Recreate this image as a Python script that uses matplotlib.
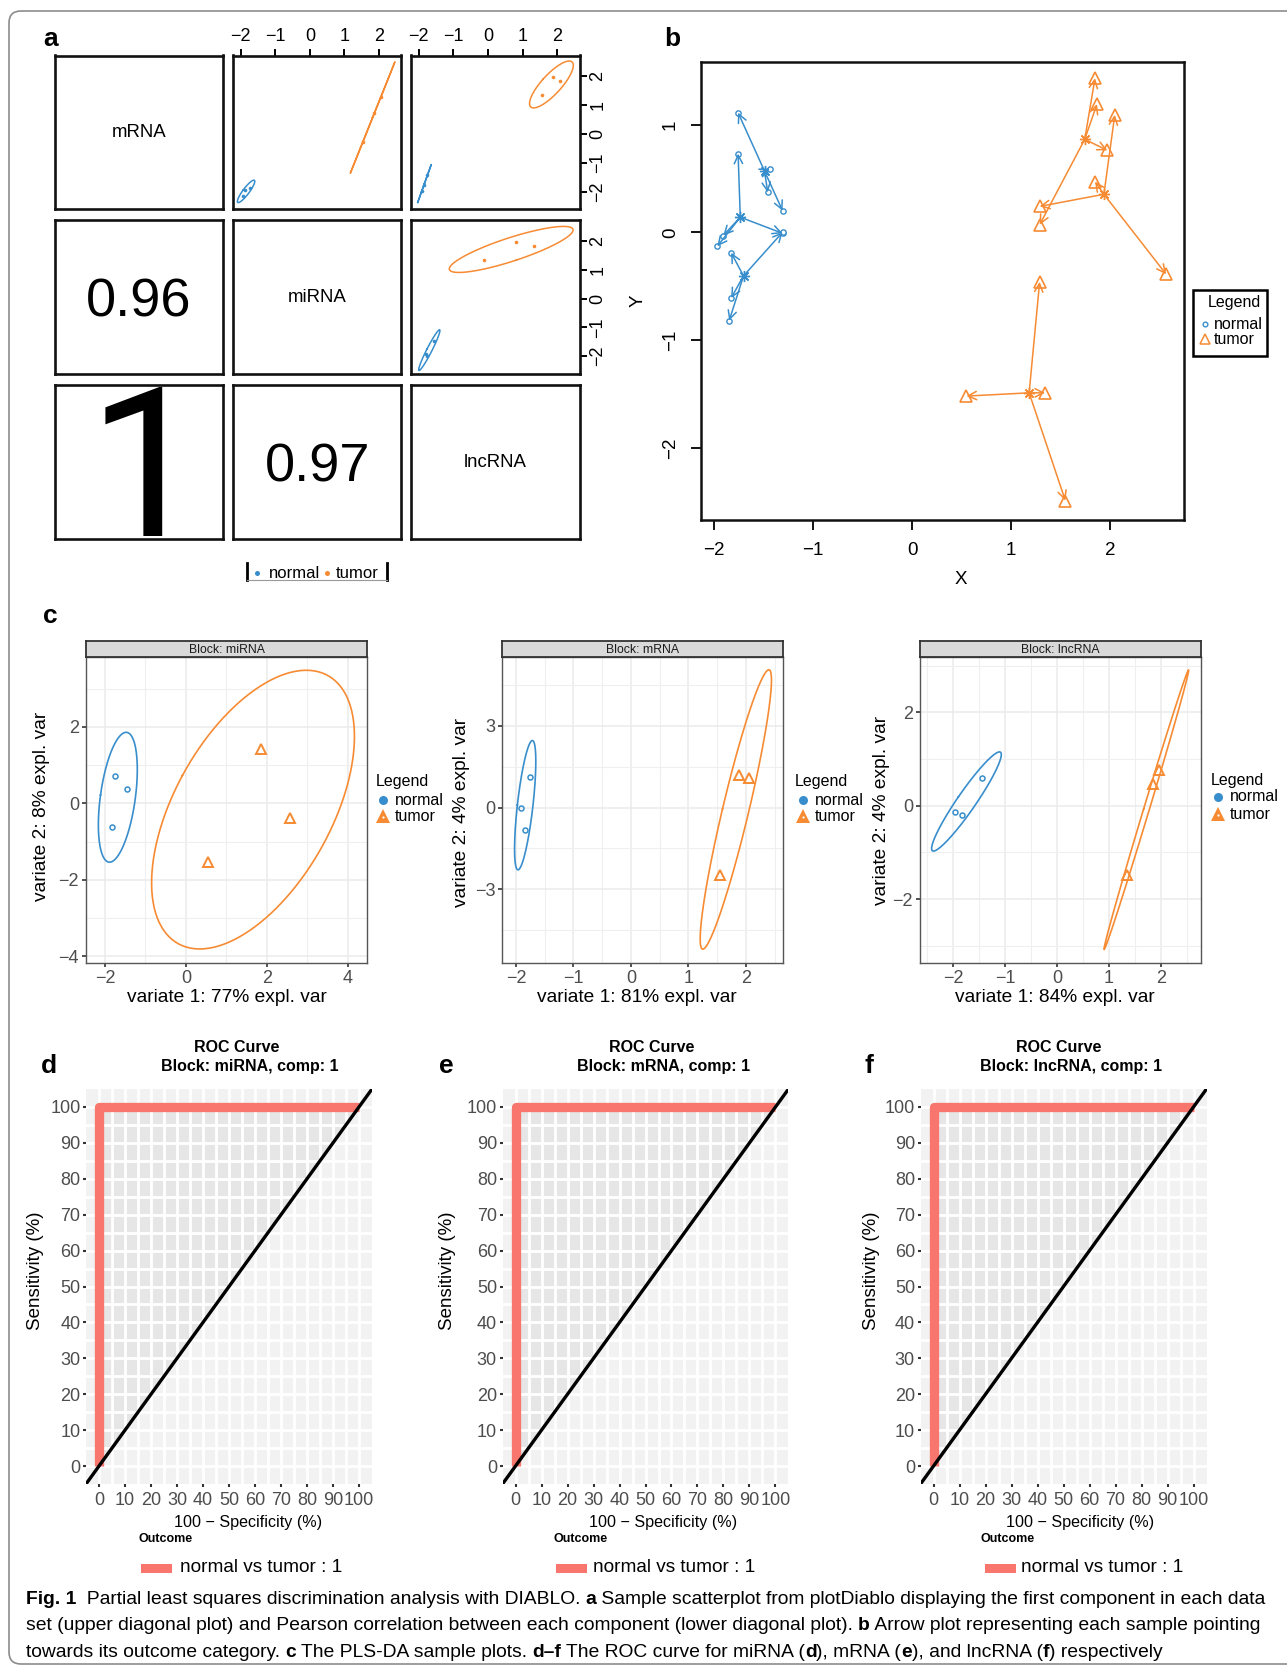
import numpy as np
import matplotlib
matplotlib.use('Agg')
import matplotlib.pyplot as plt
from matplotlib.patches import Rectangle, FancyBboxPatch, Polygon
from matplotlib import font_manager

# ===================== data =====================
class_names = ['normal', 'tumor']

# panel a (plotDiablo): diagonal block names, lower-diagonal correlations
diag_labels = ['mRNA', 'miRNA', 'lncRNA']
corr_mrna_mirna = '0.96'
corr_mrna_lncrna = '1'
corr_mirna_lncrna = '0.97'
a_ticks = [-2, -1, 0, 1, 2]

# panel a upper-diagonal scatter values (as drawn on the shared axes)
a12_normal_x = [-1.93, -1.87, -1.73]
a12_normal_y = [-2.17, -1.95, -1.86]
a12_tumor_x = [1.53, 1.86, 2.05]
a12_tumor_y = [-0.28, 0.72, 1.28]
a13_normal_x = [-1.91, -1.845, -1.75]
a13_normal_y = [-1.98, -1.76, -1.44]
a13_tumor_x = [1.87, 2.06, 1.55]
a13_tumor_y = [1.99, 1.83, 1.35]
a23_normal_x = [-1.55, -1.78, -1.75]
a23_normal_y = [-1.46, -1.91, -2.00]
a23_tumor_x = [-0.12, 0.80, 1.32]
a23_tumor_y = [1.34, 1.96, 1.83]

# PLS-DA component scores (variate 1, variate 2), samples 1-3 of each class
mirna_normal_x = [-1.46, -1.76, -1.83]
mirna_normal_y = [0.37, 0.73, -0.61]
mirna_tumor_x = [1.85, 2.57, 0.55]
mirna_tumor_y = [1.43, -0.39, -1.52]
mrna_normal_x = [-1.76, -1.91, -1.85]
mrna_normal_y = [1.11, -0.03, -0.82]
mrna_tumor_x = [1.87, 2.05, 1.55]
mrna_tumor_y = [1.19, 1.09, -2.49]
lnc_normal_x = [-1.44, -1.97, -1.83]
lnc_normal_y = [0.59, -0.13, -0.19]
lnc_tumor_x = [1.975, 1.85, 1.345]
lnc_tumor_y = [0.76, 0.47, -1.49]
# fourth (outcome) block, used by the arrow plot
outcome_normal_x = [-1.31, -1.31, -1.31]
outcome_normal_y = [0.20, -0.01, 0.00]
outcome_tumor_x = [1.29, 1.29, 1.29]
outcome_tumor_y = [0.07, 0.24, -0.46]
b_xticks = [-2, -1, 0, 1, 2]
b_yticks = [-2, -1, 0, 1]

plsda_blocks = ['miRNA', 'mRNA', 'lncRNA']
plsda_var1 = [77, 81, 84]
plsda_var2 = [8, 4, 4]
plsda_xticks = [[-2, 0, 2, 4], [-2, -1, 0, 1, 2], [-2, -1, 0, 1, 2]]
plsda_yticks = [[-4, -2, 0, 2], [-3, 0, 3], [-2, 0, 2]]

roc_blocks = ['miRNA', 'mRNA', 'lncRNA']
roc_fpr = [0, 0, 100]      # 100 - specificity (%)
roc_tpr = [0, 100, 100]    # sensitivity (%)
roc_ticks = [0, 10, 20, 30, 40, 50, 60, 70, 80, 90, 100]
roc_legend = 'normal vs tumor : 1'

caption_lines = [
    [("Fig. 1", True), ("  Partial least squares discrimination analysis with DIABLO. ", False), ("a", True),
     (" Sample scatterplot from plotDiablo displaying the first component in each data", False)],
    [("set (upper diagonal plot) and Pearson correlation between each component (lower diagonal plot). ", False),
     ("b", True), (" Arrow plot representing each sample pointing", False)],
    [("towards its outcome category. ", False), ("c", True), (" The PLS-DA sample plots. ", False), ("d\u2013f", True),
     (" The ROC curve for miRNA (", False), ("d", True), ("), mRNA (", False), ("e", True),
     ("), and lncRNA (", False), ("f", True), (") respectively", False)],
]

# ===================== style / helpers =====================
W, H = 1287, 1668
BLUE = '#388ECC'
ORANGE = '#F68B33'
ROC_RED = '#F8766D'
FAM = ['Liberation Sans', 'DejaVu Sans']
plt.rcParams['font.family'] = FAM
plt.rcParams['axes.unicode_minus'] = True

fig = plt.figure(figsize=(W / 100, H / 100), dpi=100)


def add_ax(x0, y0, x1, y1, **kw):
    return fig.add_axes([x0 / W, 1 - y1 / H, (x1 - x0) / W, (y1 - y0) / H], **kw)


def conf_ellipse(x, y, n=240):
    x = np.asarray(x, float)
    y = np.asarray(y, float)
    cov = np.cov(x, y)
    vals, vecs = np.linalg.eigh(cov)
    vals = np.clip(vals, 0, None)
    t = np.sqrt(-2 * np.log(0.05))
    th = np.linspace(0, 2 * np.pi, n)
    circ = np.vstack([np.cos(th), np.sin(th)])
    pts = vecs @ (np.sqrt(vals)[:, None] * circ) * t
    return x.mean() + pts[0], y.mean() + pts[1]


ov = add_ax(0, 0, W, H, zorder=10)
ov.set_xlim(0, W)
ov.set_ylim(H, 0)
ov.axis('off')
ov.patch.set_alpha(0)


def otext(x, y, s, **kw):
    kw.setdefault('va', 'center')
    return ov.text(x, y, s, **kw)


# ===================== panel a =====================
cols_px = [(54.7, 223.1), (233.4, 401.4), (411.4, 579.8)]
rows_px = [(55.5, 209.4), (220.1, 374.0), (384.8, 539.4)]
A_XLIM = (-2.21, 2.645)
A_YLIM = (-2.62, 2.73)
upper_cells = {
    (0, 1): (a12_normal_x, a12_normal_y, a12_tumor_x, a12_tumor_y),
    (0, 2): (a13_normal_x, a13_normal_y, a13_tumor_x, a13_tumor_y),
    (1, 2): (a23_normal_x, a23_normal_y, a23_tumor_x, a23_tumor_y),
}
lower_cells = {(1, 0): (corr_mrna_mirna, 39, 0.0, FAM),
               (2, 0): (corr_mrna_lncrna, 150, 7.0, ['Roboto', 'Open Sans', 'Liberation Sans']),
               (2, 1): (corr_mirna_lncrna, 39, 0.0, FAM)}

for i in range(3):
    for j in range(3):
        x0, x1 = cols_px[j]
        y0, y1 = rows_px[i]
        ax = add_ax(x0, y0, x1, y1)
        ax.set_xlim(*A_XLIM)
        ax.set_ylim(*A_YLIM)
        ax.set_xticks([])
        ax.set_yticks([])
        for s in ax.spines.values():
            s.set_linewidth(1.9)
            s.set_color('#111111')
        cx, cy = (x0 + x1) / 2, (y0 + y1) / 2
        if i == j:
            otext(cx, cy, diag_labels[i], ha='center', fontsize=13.4)
        elif i > j:
            lab, size, dx, fam = lower_cells[(i, j)]
            em = size * 100 / 72
            ov.text(cx + dx, cy + 0.356 * em, lab, ha='center', va='baseline', fontsize=size, family=fam)
        else:
            nx, ny, tx, ty = upper_cells[(i, j)]
            for xs, ys, c in ((nx, ny, BLUE), (tx, ty, ORANGE)):
                ex, ey = conf_ellipse(xs, ys)
                ax.plot(ex, ey, color=c, lw=1.1)
                ax.plot(xs, ys, 'o', color=c, ms=2.6, mew=0)
        if i == 0 and j > 0:
            ax.xaxis.set_ticks_position('top')
            ax.set_xticks(a_ticks)
            ax.tick_params(axis='x', direction='out', length=5.3, width=1.4, labelsize=13, pad=2.5,
                           top=True, labeltop=True, bottom=False, labelbottom=False)
        if j == 2 and i < 2:
            ax.yaxis.set_ticks_position('right')
            ax.set_yticks(a_ticks)
            ax.tick_params(axis='y', direction='out', length=5.3, width=1.4, labelsize=13, pad=1.5,
                           right=True, labelright=True, left=False, labelleft=False, labelrotation=90)
            for t in ax.get_yticklabels():
                t.set_va('center')

# panel a legend
ov.plot([247.3, 247.3], [563, 579.5], color='black', lw=2.0)
ov.plot([386.7, 386.7], [563, 579.5], color='black', lw=2.0)
ov.plot([247.3, 386.7], [579.5, 579.5], color='#999999', lw=0.8)
ov.plot([256.7], [573.3], 'o', color=BLUE, ms=3.6, mew=0)
otext(268.5, 573, class_names[0], ha='left', fontsize=12)
ov.plot([327.3], [573.3], 'o', color=ORANGE, ms=3.6, mew=0)
otext(335.5, 573, class_names[1], ha='left', fontsize=12)

# ===================== panel b (arrow plot) =====================
axb = add_ax(701, 62, 1184, 520)
axb.set_xlim(-2.135, 2.75)
axb.set_ylim(-2.67, 1.58)
for s in axb.spines.values():
    s.set_linewidth(1.8)
    s.set_color('#111111')
axb.set_xticks(b_xticks)
axb.set_yticks(b_yticks)
axb.tick_params(direction='out', length=7, width=1.3, labelsize=13.5, pad=9)
axb.tick_params(axis='y', labelrotation=90)
for t in axb.get_yticklabels():
    t.set_va('center')

arrow_sets = [
    (BLUE, 'o', [mirna_normal_x, mrna_normal_x, lnc_normal_x, outcome_normal_x],
     [mirna_normal_y, mrna_normal_y, lnc_normal_y, outcome_normal_y]),
    (ORANGE, '^', [mirna_tumor_x, mrna_tumor_x, lnc_tumor_x, outcome_tumor_x],
     [mirna_tumor_y, mrna_tumor_y, lnc_tumor_y, outcome_tumor_y]),
]
for col, mk, bxs, bys in arrow_sets:
    bx = np.array(bxs)
    by = np.array(bys)
    for s in range(bx.shape[1]):
        sx, sy = bx[:, s].mean(), by[:, s].mean()
        for px, py in zip(bx[:, s], by[:, s]):
            axb.annotate('', xy=(px, py), xytext=(sx, sy),
                         arrowprops=dict(arrowstyle='->,head_length=0.6,head_width=0.3', color=col,
                                         lw=1.1, shrinkA=0, shrinkB=0, mutation_scale=10))
        axb.plot([sx], [sy], marker=(8, 2, 0), color=col, ms=8, mew=1.0, ls='none')
    if mk == 'o':
        axb.plot(bx.ravel(), by.ravel(), 'o', mfc='white', mec=col, ms=3.8, mew=1.0, ls='none')
    else:
        axb.plot(bx.ravel(), by.ravel(), '^', mfc='white', mec=col, ms=8, mew=1.2, ls='none')

otext(638, 301, 'Y', ha='center', fontsize=13.5, rotation=90)
otext(961, 579, 'X', ha='center', fontsize=13.5)
ov.add_patch(Rectangle((1193, 290), 74, 66, fill=False, ec='black', lw=1.8))
otext(1234, 302.5, 'Legend', ha='center', fontsize=11.5)
ov.plot([1205.3], [324], 'o', mfc='white', mec=BLUE, ms=3.4, mew=1.0)
otext(1214, 324, class_names[0], ha='left', fontsize=11.5)
ov.plot([1205.3], [339], '^', mfc='white', mec=ORANGE, ms=6.5, mew=1.1)
otext(1214, 339, class_names[1], ha='left', fontsize=11.5)

# ===================== panel c (PLS-DA) =====================
c_x_px = [(86, 367.3), (502.3, 783.3), (920, 1200.7)]
STRIP_TOP, STRIP_BOT, PANEL_BOT = 640.5, 657, 963
c_xlims = [(-2.47, 4.48), (-2.238, 2.649), (-2.643, 2.772)]
c_ylims = [(-4.17, 3.83), (-5.71, 5.53), (-3.371, 3.186)]
c_normal_x = [mirna_normal_x, mrna_normal_x, lnc_normal_x]
c_normal_y = [mirna_normal_y, mrna_normal_y, lnc_normal_y]
c_tumor_x = [mirna_tumor_x, mrna_tumor_x, lnc_tumor_x]
c_tumor_y = [mirna_tumor_y, mrna_tumor_y, lnc_tumor_y]
c_xlab_px = [227, 637, 1055]
c_ylab_px = [(42, 806), (461, 812), (881, 810)]
c_leg_px = [(375.7, 382.7, 395, 781.5, 800, 816),
            (795, 802.7, 815, 781.5, 800, 816.5),
            (1211, 1217.7, 1230, 780, 796.7, 814)]


def minor_between(ticks, lim):
    step = ticks[1] - ticks[0]
    cand = np.arange(ticks[0] - step / 2, ticks[-1] + step, step)
    return [v for v in cand if lim[0] < v < lim[1]]


for k in range(3):
    x0, x1 = c_x_px[k]
    ax = add_ax(x0, STRIP_BOT, x1, PANEL_BOT)
    ax.set_xlim(*c_xlims[k])
    ax.set_ylim(*c_ylims[k])
    ax.set_xticks(plsda_xticks[k])
    ax.set_yticks(plsda_yticks[k])
    ax.set_xticks(minor_between(plsda_xticks[k], c_xlims[k]), minor=True)
    ax.set_yticks(minor_between(plsda_yticks[k], c_ylims[k]), minor=True)
    ax.grid(which='major', color='#EBEBEB', lw=1.1)
    ax.grid(which='minor', color='#EFEFEF', lw=0.8)
    ax.set_axisbelow(True)
    ax.tick_params(which='minor', length=0)
    ax.tick_params(which='major', direction='out', length=3, width=1.2, color='#333333',
                   labelsize=13, labelcolor='#4D4D4D', pad=2)
    for s in ax.spines.values():
        s.set_color('#555555')
        s.set_linewidth(1.0)
    for xs, ys, c, mk, ms, mew in ((c_normal_x[k], c_normal_y[k], BLUE, 'o', 3.6, 1.1),
                                   (c_tumor_x[k], c_tumor_y[k], ORANGE, '^', 6.5, 1.4)):
        ex, ey = conf_ellipse(xs, ys)
        ax.plot(ex, ey, color=c, lw=1.2)
        ax.plot(xs, ys, mk, mfc='none', mec=c, ms=ms, mew=mew, ls='none')
    st = add_ax(x0, STRIP_TOP, x1, STRIP_BOT)
    st.set_facecolor('#D9D9D9')
    st.set_xticks([])
    st.set_yticks([])
    for s in st.spines.values():
        s.set_color('#333333')
        s.set_linewidth(1.3)
    st.text(0.5, 0.45, 'Block: ' + plsda_blocks[k], transform=st.transAxes, ha='center', va='center',
            fontsize=8.8, color='#1A1A1A')
    otext(c_xlab_px[k], 997, 'variate 1: %d%% expl. var' % plsda_var1[k], ha='center', fontsize=13.8)
    otext(c_ylab_px[k][0], c_ylab_px[k][1], 'variate 2: %d%% expl. var' % plsda_var2[k], ha='center',
          fontsize=13.8, rotation=90)
    lx, mx, tx, ly, ny_, ty_ = c_leg_px[k]
    otext(lx, ly, 'Legend', ha='left', fontsize=11.5)
    ov.plot([mx], [ny_], 'o', color=BLUE, ms=6.5, mew=0)
    otext(tx, ny_, class_names[0], ha='left', fontsize=11.5)
    ov.plot([mx], [ty_ - 0.5], '^', color=ORANGE, ms=9.5, mew=0)
    ov.plot([mx], [ty_ + 0.8], 'o', color='white', ms=1.6, mew=0)
    otext(tx, ty_, class_names[1], ha='left', fontsize=11.5)

# ===================== panels d-f (ROC) =====================
roc_x_px = [(86, 372), (502.5, 788.5), (920.5, 1206.5)]
ROC_TOP, ROC_BOT = 1089, 1484
roc_title1_x = [237, 652, 1059]
roc_title2_x = [249.5, 664, 1071]
roc_xlab_x = [248, 663, 1080]
roc_ylab_x = [35, 448, 872]
roc_outcome_x = [166, 581, 1008]
roc_legrect_x = [141, 556, 985]
roc_legtext_x = [180, 593, 1021]
roc_minor = [v + 5 for v in roc_ticks[:-1]]

for k in range(3):
    x0, x1 = roc_x_px[k]
    ax = add_ax(x0, ROC_TOP, x1, ROC_BOT)
    ax.set_xlim(-5, 105)
    ax.set_ylim(-5, 105)
    ax.set_facecolor('#F2F2F2')
    for s in ax.spines.values():
        s.set_visible(False)
    ax.add_patch(Polygon(np.column_stack([roc_fpr, roc_tpr]), closed=True, fc='#E6E6E6', ec='none', zorder=0.5))
    ax.set_xticks(roc_ticks)
    ax.set_yticks(roc_ticks)
    ax.set_xticks(roc_minor, minor=True)
    ax.set_yticks(roc_minor, minor=True)
    ax.grid(which='both', color='white', lw=2.0, zorder=1)
    ax.set_axisbelow(False)
    for gl in ax.get_xgridlines() + ax.get_ygridlines():
        gl.set_zorder(1)
    for gl in ax.xaxis.get_minorticklines() + ax.yaxis.get_minorticklines():
        gl.set_visible(False)
    ax.xaxis.grid(True, which='minor', color='white', lw=2.0)
    ax.yaxis.grid(True, which='minor', color='white', lw=2.0)
    ax.tick_params(which='minor', length=0)
    ax.tick_params(which='major', direction='out', length=2.5, width=1.5, color='#333333',
                   labelsize=13, labelcolor='#4D4D4D', pad=1.5)
    ax.tick_params(axis='x', pad=3.5)
    ax.plot(roc_fpr, roc_tpr, color=ROC_RED, lw=6.7, solid_capstyle='butt', solid_joinstyle='round', zorder=3)
    ax.axline((0, 0), slope=1, color='black', lw=2.4, zorder=4)
    otext(roc_title1_x[k], 1047, 'ROC Curve', ha='center', fontsize=11.5, fontweight='bold')
    otext(roc_title2_x[k], 1066, 'Block: %s, comp: 1' % roc_blocks[k], ha='center', fontsize=11.5,
          fontweight='bold')
    otext(roc_xlab_x[k], 1522, '100 \u2212 Specificity (%)', ha='center', fontsize=11.6)
    otext(roc_ylab_x[k], 1271, 'Sensitivity (%)', ha='center', fontsize=13.5, rotation=90)
    otext(roc_outcome_x[k], 1539.5, 'Outcome', ha='center', fontsize=9, fontweight='bold')
    ov.add_patch(Rectangle((roc_legrect_x[k], 1563.5), 31, 9.5, fc=ROC_RED, ec='none'))
    otext(roc_legtext_x[k], 1568, roc_legend, ha='left', fontsize=13.7)

# ===================== panel letters =====================
for lab, x, y in (('a', 50.7, 46), ('b', 672, 46), ('c', 50.8, 622.7),
                  ('d', 49, 1073), ('e', 446, 1073), ('f', 869, 1073)):
    ov.text(x, y, lab, ha='center', va='baseline', fontsize=19, fontweight='bold')

# ===================== caption =====================
def has_font(name):
    try:
        font_manager.findfont(font_manager.FontProperties(family=name), fallback_to_default=False)
        return True
    except Exception:
        return False


CAP_FAM = [f for f in ('Liberation Sans Narrow', 'Liberation Sans') if has_font(f)] + ['DejaVu Sans']
renderer = fig.canvas.get_renderer()


def seg_width(s, size, bold):
    t = ov.text(0, 0, s + '|', fontsize=size, fontweight='bold' if bold else 'normal', family=CAP_FAM)
    w1 = t.get_window_extent(renderer).width
    t.set_text('|')
    w2 = t.get_window_extent(renderer).width
    t.remove()
    return w1 - w2


ref = 14.0
w_line2 = sum(seg_width(s, ref, b) for s, b in caption_lines[1])
cap_size = ref * 1248.0 / w_line2
for line, base in zip(caption_lines, (1604, 1630.5, 1657)):
    x = 25.5
    for s, b in line:
        ov.text(x, base, s, fontsize=cap_size, fontweight='bold' if b else 'normal', family=CAP_FAM,
                ha='left', va='baseline')
        x += seg_width(s, cap_size, b)

# outer frame
ov.add_patch(FancyBboxPatch((9, 11), 1320, 1653, boxstyle='round,pad=0,rounding_size=12',
                            fill=False, ec='#8C8C8C', lw=1.2))

fig.savefig('out.png', dpi=100)
